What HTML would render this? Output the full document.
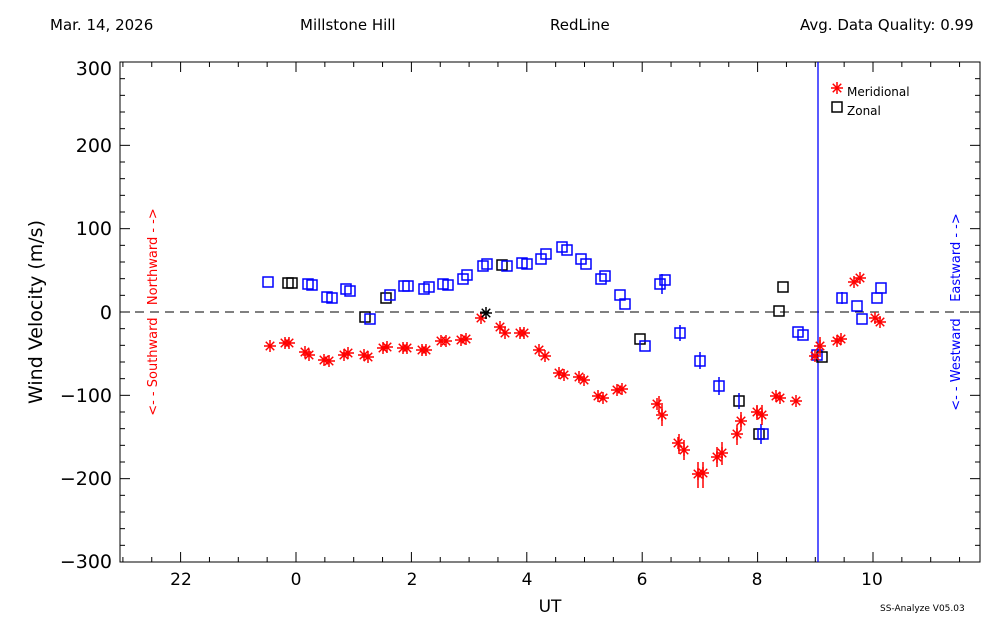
<!DOCTYPE html>
<html><head><meta charset="utf-8"><style>body{margin:0;background:#fff}svg{display:block}text{font-family:"DejaVu Sans","Liberation Sans",sans-serif}</style></head>
<body>
<svg id="s" width="1000" height="625" xmlns="http://www.w3.org/2000/svg">
<rect width="1000" height="625" fill="#fff"/>
<g font-size="15" fill="#000">
<text x="50" y="30">Mar. 14, 2026</text>
<text x="300" y="30">Millstone Hill</text>
<text x="550" y="30">RedLine</text>
<text x="800" y="30">Avg. Data Quality: 0.99</text>
</g>
<rect x="120" y="62" width="860" height="500" fill="none" stroke="#000" stroke-width="1"/>
<line x1="120" y1="312" x2="980" y2="312" stroke="#000" stroke-dasharray="9,6"/>
<line x1="818" y1="62" x2="818" y2="562" stroke="#00f" stroke-width="1.3"/>
<g id="ticks" stroke="#000"></g>
<g font-size="19" fill="#000" text-anchor="end">
<text x="112" y="75">300</text><text x="112" y="152">200</text><text x="112" y="235">100</text><text x="112" y="319">0</text><text x="112" y="402">−100</text><text x="112" y="485">−200</text><text x="112" y="568">−300</text>
</g>
<g font-size="17" fill="#000" text-anchor="middle">
<text x="181" y="585">22</text><text x="296" y="585">0</text><text x="412" y="585">2</text><text x="527" y="585">4</text><text x="642" y="585">6</text><text x="757" y="585">8</text><text x="872" y="585">10</text>
<text x="550" y="612">UT</text>
</g>
<text font-size="19" transform="translate(42,312) rotate(-90)" text-anchor="middle">Wind Velocity (m/s)</text>
<text font-size="13" fill="#f00" transform="translate(157,312) rotate(-90)" text-anchor="middle">&lt;- - Southward&#160;&#160;&#160;Northward - -&gt;</text>
<text font-size="13" fill="#00f" transform="translate(960,312) rotate(-90)" text-anchor="middle">&lt;- - Westward&#160;&#160;&#160;&#160;Eastward - -&gt;</text>
<text x="880" y="611" font-size="9">SS-Analyze V05.03</text>
<text x="847" y="96" font-size="12">Meridional</text>
<text x="847" y="115" font-size="12">Zonal</text>
<g id="pts"></g>
</svg>
<script>
var NS="http://www.w3.org/2000/svg";
function el(p,t,a){var e=document.createElementNS(NS,t);for(var k in a)e.setAttribute(k,a[k]);p.appendChild(e);return e;}
var tk=document.getElementById('ticks');
for(var v=-300;v<=300;v+=20){var y=312-v*0.8333;var L=(v%100==0)?10:5;
el(tk,'line',{x1:120,y1:y,x2:120+L,y2:y});el(tk,'line',{x1:980,y1:y,x2:980-L,y2:y});}
for(var h=-3;h<=12;h+=0.5){var x=296+h*57.7;if(x<120||x>980)continue;var L=(Math.abs(h%2)<0.01)?10:5;
el(tk,'line',{x1:x,y1:562,x2:x,y2:562-L});el(tk,'line',{x1:x,y1:62,x2:x,y2:62+L});}
var P=document.getElementById('pts');
function sq(x,y,c){el(P,'rect',{x:x-5,y:y-5,width:10,height:10,fill:'none',stroke:c,'stroke-width':1.5});}
function st(x,y,c){for(var a=0;a<4;a++){var an=a*Math.PI/4;el(P,'line',{x1:x-6*Math.cos(an),y1:y-6*Math.sin(an),x2:x+6*Math.cos(an),y2:y+6*Math.sin(an),stroke:c,'stroke-width':1.5});}}
function eb(x,y1,y2,c){el(P,'line',{x1:x,y1:y1,x2:x,y2:y2,stroke:c,'stroke-width':1.5});}
var B='#00f',K='#000',R='#f00';
var Z=[[268,282,B],[288,283,K],[292,283,K],[308,284,B],[312,285,B],[327,297,B],[332,298,B],[346,289,B],[350,291,B],[365,317,K],[370,319,B],[386,298,K],[390,295,B],[404,286,B],[408,286,B],[424,289,B],[429,287,B],[443,284,B],[448,285,B],[463,279,B],[467,275,B],[483,266,B],[487,264,B],[502,265,K],[507,266,B],[522,263,B],[527,264,B],[541,259,B],[546,254,B],[562,247,B],[567,250,B],[581,259,B],[586,264,B],[601,279,B],[605,276,B],[620,295,B],[625,304,B],[640,339,K],[645,346,B],[660,284,B],[665,280,B],[680,333,B],[700,361,B],[719,386,B],[739,401,K],[759,434,K],[763,434,B],[779,311,K],[783,287,K],[798,332,B],[803,335,B],[817,355,B],[822,357,K],[842,298,B],[857,306,B],[862,319,B],[877,298,B],[881,288,B]];
Z.forEach(function(p){sq(p[0],p[1],p[2]);});
eb(662,274,294,B);eb(680,325,341,B);eb(700,352,369,B);eb(719,377,395,B);eb(739,393,409,B);eb(761,424,444,B);eb(842,292,304,B);
var M=[[270,346],[285,343],[289,343],[305,352],[309,355],[324,360],[329,361],[344,355],[348,353],[364,355],[368,357],[383,348],[387,347],[403,348],[407,348],[422,350],[426,350],[441,341],[446,341],[461,340],[466,339],[481,318],[486,313,K],[500,327],[505,333],[520,333],[524,333],[539,350],[545,356],[559,373],[564,375],[579,377],[584,380],[598,396],[603,398],[617,390],[622,389],[657,404],[662,415],[678,443],[684,450],[698,474],[703,473],[717,457],[722,453],[737,434],[741,421],[757,412],[762,415],[776,396],[780,398],[796,401],[815,356],[820,346],[837,341],[841,339],[854,282],[860,278],[875,318],[880,322]];
M.forEach(function(p){st(p[0],p[1],p[2]||R);});
eb(659,396,414,R);eb(662,405,426,R);eb(679,434,454,R);eb(684,440,460,R);eb(698,462,488,R);eb(703,462,488,R);eb(717,447,467,R);eb(722,442,465,R);eb(737,425,445,R);eb(741,412,430,R);eb(757,405,420,R);eb(762,405,425,R);eb(820,337,355,R);
st(837,88,R);sq(837,107,K);
</script>
</body></html>
